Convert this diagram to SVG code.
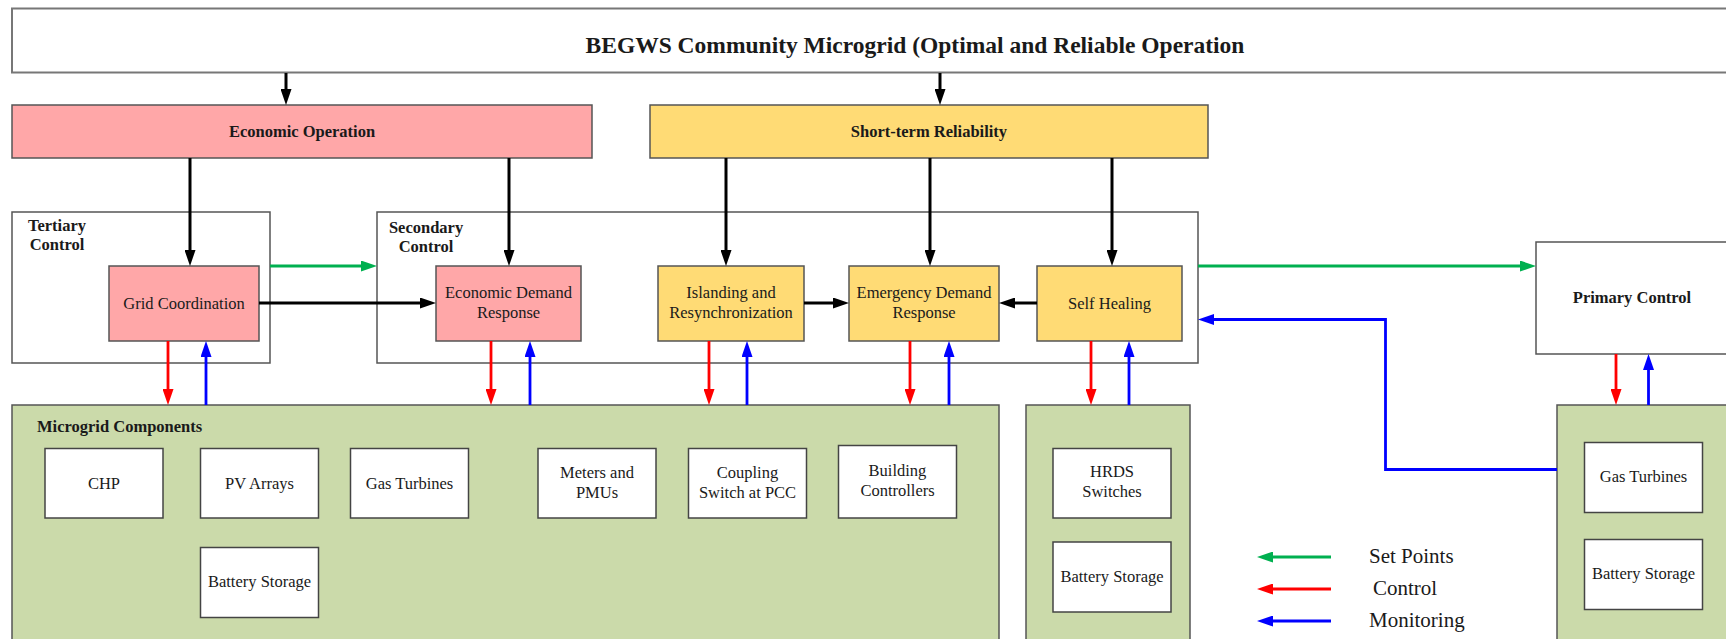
<svg xmlns="http://www.w3.org/2000/svg" width="1726" height="639" viewBox="0 0 1726 639">
<style>
  text { font-family: "Liberation Serif", "Times New Roman", serif; fill: #1a1a1a; }
  .b { font-weight: bold; font-size: 16.5px; }
  .r { font-size: 16.5px; }
  .mid { text-anchor: middle; }
  .box { stroke: #555; stroke-width: 1.5; }
  .white { fill: #ffffff; }
  .pink { fill: #FFA7A8; }
  .yellow { fill: #FFDB75; }
  .green { fill: #CBDAAA; }
  .comp { fill: #ffffff; stroke: #444; stroke-width: 1.5; }
  .k { stroke: #000; stroke-width: 3; fill: none; marker-end: url(#mk); }
  .rd { stroke: #FF0000; stroke-width: 2.8; fill: none; marker-end: url(#mr); }
  .bl { stroke: #0000FF; stroke-width: 2.8; fill: none; marker-end: url(#mb); }
  .gr { stroke: #00B050; stroke-width: 2.8; fill: none; marker-end: url(#mg); }
  .leg { font-size: 21px; }
</style>
<defs>
  <marker id="mk" viewBox="0 0 16 11" refX="8" refY="5.5" markerWidth="16" markerHeight="11" markerUnits="userSpaceOnUse" orient="auto"><path d="M0,0 L16,5.5 L0,11 z" fill="#000"/></marker>
  <marker id="mr" viewBox="0 0 16 11" refX="8" refY="5.5" markerWidth="16" markerHeight="11" markerUnits="userSpaceOnUse" orient="auto"><path d="M0,0 L16,5.5 L0,11 z" fill="#FF0000"/></marker>
  <marker id="mb" viewBox="0 0 16 11" refX="8" refY="5.5" markerWidth="16" markerHeight="11" markerUnits="userSpaceOnUse" orient="auto"><path d="M0,0 L16,5.5 L0,11 z" fill="#0000FF"/></marker>
  <marker id="mg" viewBox="0 0 16 11" refX="8" refY="5.5" markerWidth="16" markerHeight="11" markerUnits="userSpaceOnUse" orient="auto"><path d="M0,0 L16,5.5 L0,11 z" fill="#00B050"/></marker>
</defs>
<rect width="1726" height="639" fill="#ffffff"/>

<g id="title">
  <rect x="12" y="8.5" width="1730" height="64" fill="#ffffff" stroke="#777" stroke-width="2"/>
  <text x="915" y="53" class="mid" style="font-weight:bold;font-size:23.5px">BEGWS Community Microgrid (Optimal and Reliable Operation</text>
</g>

<g id="economic-operation">
  <rect x="12" y="105" width="580" height="53" class="box pink"/>
  <text x="302" y="137" class="b mid">Economic Operation</text>
</g>
<g id="short-term-reliability">
  <rect x="650" y="105" width="558" height="53" class="box yellow"/>
  <text x="929" y="137" class="b mid">Short-term Reliability</text>
</g>

<g id="tertiary-control">
  <rect x="12" y="212" width="258" height="151" class="box white"/>
  <text x="57" y="231" class="b mid">Tertiary</text>
  <text x="57" y="250" class="b mid">Control</text>
</g>
<g id="secondary-control">
  <rect x="377" y="212" width="821" height="151" class="box white"/>
  <text x="426" y="233" class="b mid">Secondary</text>
  <text x="426" y="252" class="b mid">Control</text>
</g>

<g id="grid-coordination">
  <rect x="109" y="266" width="150" height="75" class="box pink"/>
  <text x="184" y="309" class="r mid">Grid Coordination</text>
</g>
<g id="economic-demand-response">
  <rect x="436" y="266" width="145" height="75" class="box pink"/>
  <text x="508.5" y="298" class="r mid">Economic Demand</text>
  <text x="508.5" y="318" class="r mid">Response</text>
</g>
<g id="islanding">
  <rect x="658" y="266" width="146" height="75" class="box yellow"/>
  <text x="731" y="298" class="r mid">Islanding and</text>
  <text x="731" y="318" class="r mid">Resynchronization</text>
</g>
<g id="emergency-demand-response">
  <rect x="849" y="266" width="150" height="75" class="box yellow"/>
  <text x="924" y="298" class="r mid">Emergency Demand</text>
  <text x="924" y="318" class="r mid">Response</text>
</g>
<g id="self-healing">
  <rect x="1037" y="266" width="145" height="75" class="box yellow"/>
  <text x="1109.5" y="309" class="r mid">Self Healing</text>
</g>

<g id="primary-control">
  <rect x="1536" y="242" width="200" height="112" class="box white"/>
  <text x="1632" y="303" class="b mid">Primary Control</text>
</g>

<g id="microgrid-components">
  <rect x="12" y="405" width="987" height="260" class="box green"/>
  <text x="37" y="432" class="b">Microgrid Components</text>
</g>
<g id="chp"><rect x="45" y="448.5" width="118" height="69.5" class="comp"/><text x="104" y="488.5" class="r mid">CHP</text></g>
<g id="pv-arrays"><rect x="200.5" y="448.5" width="118" height="69.5" class="comp"/><text x="259.5" y="488.5" class="r mid">PV Arrays</text></g>
<g id="gas-turbines-1"><rect x="350.5" y="448.5" width="118" height="69.5" class="comp"/><text x="409.5" y="488.5" class="r mid">Gas Turbines</text></g>
<g id="meters-pmus"><rect x="538" y="448.5" width="118" height="69.5" class="comp"/><text x="597" y="477.5" class="r mid">Meters and</text><text x="597" y="497.5" class="r mid">PMUs</text></g>
<g id="coupling-switch"><rect x="688.5" y="448.5" width="118" height="69.5" class="comp"/><text x="747.5" y="477.5" class="r mid">Coupling</text><text x="747.5" y="497.5" class="r mid">Switch at PCC</text></g>
<g id="building-controllers"><rect x="838.5" y="445.5" width="118" height="72.5" class="comp"/><text x="897.5" y="476" class="r mid">Building</text><text x="897.5" y="496" class="r mid">Controllers</text></g>
<g id="battery-storage-1"><rect x="200.5" y="547.5" width="118" height="70" class="comp"/><text x="259.5" y="587" class="r mid">Battery Storage</text></g>

<g id="self-healing-components">
  <rect x="1026" y="405" width="164" height="260" class="box green"/>
</g>
<g id="hrds-switches"><rect x="1053" y="448.5" width="118" height="69.5" class="comp"/><text x="1112" y="477" class="r mid">HRDS</text><text x="1112" y="497" class="r mid">Switches</text></g>
<g id="battery-storage-2"><rect x="1053" y="542" width="118" height="70" class="comp"/><text x="1112" y="581.5" class="r mid">Battery Storage</text></g>

<g id="primary-components">
  <rect x="1557" y="405" width="200" height="260" class="box green"/>
</g>
<g id="gas-turbines-2"><rect x="1584.5" y="442.5" width="118" height="70" class="comp"/><text x="1643.5" y="482" class="r mid">Gas Turbines</text></g>
<g id="battery-storage-3"><rect x="1584.5" y="539.5" width="118" height="70" class="comp"/><text x="1643.5" y="578.5" class="r mid">Battery Storage</text></g>

<g id="connectors">
  <!-- top-down black -->
  <line x1="286" y1="73" x2="286" y2="97" class="k"/>
  <line x1="940" y1="73" x2="940" y2="97" class="k"/>
  <line x1="190" y1="158" x2="190" y2="258" class="k"/>
  <line x1="509" y1="158" x2="509" y2="258" class="k"/>
  <line x1="726" y1="158" x2="726" y2="258" class="k"/>
  <line x1="930" y1="158" x2="930" y2="258" class="k"/>
  <line x1="1112" y1="158" x2="1112" y2="258" class="k"/>
  <!-- horizontal black -->
  <line x1="259" y1="303" x2="428" y2="303" class="k"/>
  <line x1="804" y1="303" x2="841" y2="303" class="k"/>
  <line x1="1037" y1="303" x2="1007" y2="303" class="k"/>
  <!-- set points -->
  <line x1="270" y1="266" x2="369" y2="266" class="gr"/>
  <line x1="1198" y1="266" x2="1528" y2="266" class="gr"/>
  <!-- control (red, down) -->
  <line x1="168" y1="341" x2="168" y2="397" class="rd"/>
  <line x1="491" y1="341" x2="491" y2="397" class="rd"/>
  <line x1="709" y1="341" x2="709" y2="397" class="rd"/>
  <line x1="910" y1="341" x2="910" y2="397" class="rd"/>
  <line x1="1091" y1="341" x2="1091" y2="397" class="rd"/>
  <line x1="1616" y1="354" x2="1616" y2="397" class="rd"/>
  <!-- monitoring (blue, up) -->
  <line x1="206" y1="405" x2="206" y2="349" class="bl"/>
  <line x1="530" y1="405" x2="530" y2="349" class="bl"/>
  <line x1="747" y1="405" x2="747" y2="349" class="bl"/>
  <line x1="949" y1="405" x2="949" y2="349" class="bl"/>
  <line x1="1129" y1="405" x2="1129" y2="349" class="bl"/>
  <line x1="1648.5" y1="405" x2="1648.5" y2="362" class="bl"/>
  <polyline points="1557,469.5 1385.5,469.5 1385.5,319.5 1206,319.5" class="bl"/>
</g>

<g id="legend">
  <line x1="1331" y1="557" x2="1265" y2="557" class="gr"/>
  <line x1="1331" y1="589" x2="1265" y2="589" class="rd"/>
  <line x1="1331" y1="621" x2="1265" y2="621" class="bl"/>
  <text x="1369" y="563" class="leg">Set Points</text>
  <text x="1373" y="595" class="leg">Control</text>
  <text x="1369" y="627" class="leg">Monitoring</text>
</g>
</svg>
